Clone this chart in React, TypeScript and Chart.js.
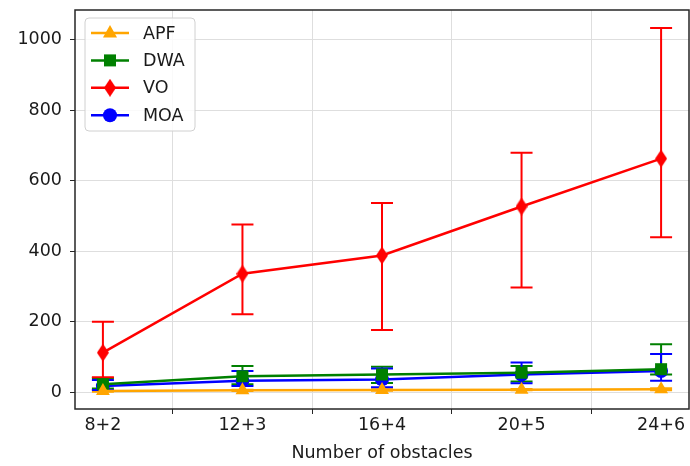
import React, { useEffect, useRef } from 'react';
import { Chart, registerables } from 'chart.js';

Chart.register(...registerables);

const categories = ['8+2', '12+3', '16+4', '20+5', '24+6'];
const seriesNames = ['APF', 'DWA', 'VO', 'MOA'];
const seriesColors = ['#FFA500', '#008000', '#FF0000', '#0000FF'];

const apfMean = [3, 5, 6, 7, 8];
const apfLow = [1, 3, 4, 5, 5];
const apfHigh = [5, 7, 8, 9, 11];

const dwaMean = [22, 45, 50, 55, 65];
const dwaLow = [10, 22, 26, 30, 50];
const dwaHigh = [40, 74, 72, 74, 136];

const voMean = [112, 336, 388, 527, 663];
const voLow = [42, 221, 176, 297, 440];
const voHigh = [200, 476, 537, 680, 1034];

const moaMean = [17, 32, 36, 50, 60];
const moaLow = [6, 17, 14, 25, 32];
const moaHigh = [34, 60, 67, 84, 108];

const yTicks = [0, 200, 400, 600, 800, 1000];

const FONT = 'DejaVu Sans';
const FS = 17.5;

function diamondCanvas(color: string, w: number, h: number) {
  const c = document.createElement('canvas');
  c.width = w;
  c.height = h;
  const g = c.getContext('2d')!;
  g.fillStyle = color;
  g.beginPath();
  g.moveTo(w / 2, 0);
  g.lineTo(w, h / 2);
  g.lineTo(w / 2, h);
  g.lineTo(0, h / 2);
  g.closePath();
  g.fill();
  return c;
}

export default function App() {
  const ref = useRef<HTMLCanvasElement | null>(null);

  useEffect(() => {
    document.body.style.margin = '0';
    const canvas = ref.current!;
    const diamond = diamondCanvas(seriesColors[2], 12, 18);
    const means = [apfMean, dwaMean, voMean, moaMean];
    const lows = [apfLow, dwaLow, voLow, moaLow];
    const highs = [apfHigh, dwaHigh, voHigh, moaHigh];
    const styles: any[] = ['triangle', 'rect', diamond, 'circle'];
    const radii = [8, 8.5, 9, 7];

    const errorBars = {
      id: 'errorBars',
      beforeDatasetsDraw(chart: any) {
        const { ctx, scales } = chart;
        const xs = scales.x;
        const ys = scales.y;
        ctx.save();
        for (let s = 0; s < means.length; s++) {
          ctx.strokeStyle = seriesColors[s];
          ctx.lineWidth = 2;
          for (let i = 0; i < categories.length; i++) {
            const x = xs.getPixelForValue(i);
            const y1 = ys.getPixelForValue(lows[s][i]);
            const y2 = ys.getPixelForValue(highs[s][i]);
            ctx.beginPath();
            ctx.moveTo(x, y1);
            ctx.lineTo(x, y2);
            ctx.moveTo(x - 11, y1);
            ctx.lineTo(x + 11, y1);
            ctx.moveTo(x - 11, y2);
            ctx.lineTo(x + 11, y2);
            ctx.stroke();
          }
        }
        ctx.restore();
      },
    };

    const frameAndLegend = {
      id: 'frameAndLegend',
      afterDraw(chart: any) {
        const { ctx, chartArea: a } = chart;
        ctx.save();
        ctx.strokeStyle = '#262626';
        ctx.lineWidth = 1.5;
        ctx.strokeRect(a.left, a.top, a.right - a.left, a.bottom - a.top);

        const bx = a.left + 10;
        const by = a.top + 8;
        const bw = 110;
        const bh = 113;
        ctx.beginPath();
        ctx.roundRect(bx, by, bw, bh, 4);
        ctx.fillStyle = 'rgba(255,255,255,0.85)';
        ctx.fill();
        ctx.strokeStyle = '#d0d0d0';
        ctx.lineWidth = 1;
        ctx.stroke();

        ctx.font = `${FS}px "${FONT}"`;
        ctx.textBaseline = 'middle';
        for (let s = 0; s < seriesNames.length; s++) {
          const y = by + 15 + s * 27.4;
          ctx.strokeStyle = seriesColors[s];
          ctx.lineWidth = 2.5;
          ctx.beginPath();
          ctx.moveTo(bx + 6, y);
          ctx.lineTo(bx + 44, y);
          ctx.stroke();
          const mx = bx + 25;
          ctx.fillStyle = seriesColors[s];
          if (s === 0) {
            ctx.beginPath();
            ctx.moveTo(mx, y - 8);
            ctx.lineTo(mx + 7, y + 4.5);
            ctx.lineTo(mx - 7, y + 4.5);
            ctx.closePath();
            ctx.fill();
          } else if (s === 1) {
            ctx.fillRect(mx - 6, y - 6, 12, 12);
          } else if (s === 2) {
            ctx.drawImage(diamond, mx - 6, y - 9);
          } else {
            ctx.beginPath();
            ctx.arc(mx, y, 7, 0, Math.PI * 2);
            ctx.fill();
          }
          ctx.fillStyle = '#1a1a1a';
          ctx.fillText(seriesNames[s], bx + 58, y + 1);
        }
        ctx.restore();
      },
    };

    const chart = new Chart(canvas, {
      type: 'line',
      data: {
        datasets: means.map((m, s) => ({
          label: seriesNames[s],
          data: m.map((v, i) => ({ x: i, y: v })),
          borderColor: seriesColors[s],
          backgroundColor: seriesColors[s],
          borderWidth: 2.5,
          pointStyle: styles[s],
          pointRadius: radii[s],
          pointBorderWidth: 0,
          pointBackgroundColor: seriesColors[s],
          tension: 0,
        })),
      },
      options: {
        animation: false,
        responsive: false,
        maintainAspectRatio: false,
        layout: { autoPadding: false, padding: { left: 0, top: 10, right: 1, bottom: 0 } },
        plugins: { legend: { display: false }, tooltip: { enabled: false } },
        scales: {
          x: {
            type: 'linear',
            min: -0.2,
            max: 4.2,
            afterBuildTicks(scale: any) {
              const t: any[] = [];
              for (let v = 0; v <= 4.001; v += 0.5) t.push({ value: v });
              scale.ticks = t;
            },
            afterFit(scale: any) {
              scale.height = 57;
              scale.paddingLeft = 0;
              scale.paddingRight = 0;
              scale.paddingTop = 0;
              scale.paddingBottom = 0;
            },
            ticks: {
              autoSkip: false,
              maxRotation: 0,
              padding: 1,
              color: '#1a1a1a',
              font: { family: FONT, size: FS },
              callback: (v: any) => (Number(v) % 1 === 0 ? categories[Number(v)] : ''),
            },
            grid: {
              color: (c: any) => (c.tick && c.tick.value % 1 !== 0 ? '#dedede' : 'rgba(0,0,0,0)'),
              tickColor: (c: any) => (c.tick && c.tick.value % 1 !== 0 ? '#262626' : 'rgba(0,0,0,0)'),
              tickLength: 5,
              lineWidth: 1,
            },
            border: { display: false },
            title: {
              display: true,
              text: 'Number of obstacles',
              color: '#1a1a1a',
              font: { family: FONT, size: FS },
              padding: { top: 2, bottom: 2 },
            },
          },
          y: {
            type: 'linear',
            min: -48,
            max: 1085,
            afterBuildTicks(scale: any) {
              scale.ticks = yTicks.map((v) => ({ value: v }));
            },
            afterFit(scale: any) {
              scale.width = 75;
              scale.paddingLeft = 0;
              scale.paddingRight = 0;
              scale.paddingTop = 0;
              scale.paddingBottom = 0;
            },
            ticks: {
              padding: 8,
              color: '#1a1a1a',
              font: { family: FONT, size: FS },
              callback: (v: any) => String(v),
            },
            grid: {
              color: '#dedede',
              tickColor: '#262626',
              tickLength: 5,
              lineWidth: 1,
            },
            border: { display: false },
          },
        },
      },
      plugins: [errorBars, frameAndLegend],
    });
    return () => chart.destroy();
  }, []);

  return <canvas ref={ref} width={690} height={466} style={{ display: 'block' }} />;
}
